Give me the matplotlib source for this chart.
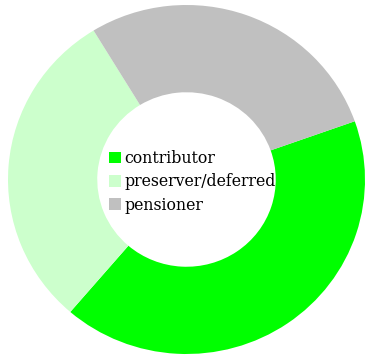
import matplotlib
matplotlib.use("Agg")
import matplotlib.pyplot as plt
from matplotlib.patches import Patch

# datos del gráfico
labels = ["contributor", "preserver/deferred", "pensioner"]
values = [41.7, 30.0, 28.3]
colors = ["#00ff00", "#ccffcc", "#c0c0c0"]

fig = plt.figure(figsize=(3.67, 3.56), dpi=100)
ax = fig.add_axes([0, 0, 1, 1])

ax.pie(values, colors=colors, startangle=19.5, counterclock=False,
       radius=1.0, wedgeprops=dict(width=0.5, linewidth=0))

# limites en funcion de los pixeles de la figura
ax.set_aspect("auto")
ax.set_xlim(-186.5 / 178.5, (367 - 186.5) / 178.5)
ax.set_ylim(-(356 - 179.5) / 174.5, 179.5 / 174.5)
ax.axis("off")

handles = [Patch(facecolor=c, edgecolor="none") for c in colors]
fig.legend(handles, labels, loc="upper left", bbox_to_anchor=(109 / 367, 1 - 150 / 356),
           frameon=False, prop={"family": "DejaVu Serif", "size": 11.3},
           handlelength=0.75, handleheight=0.75, handletextpad=0.25,
           labelspacing=0.4, borderpad=0, borderaxespad=0)

plt.savefig("out.png", dpi=100)
